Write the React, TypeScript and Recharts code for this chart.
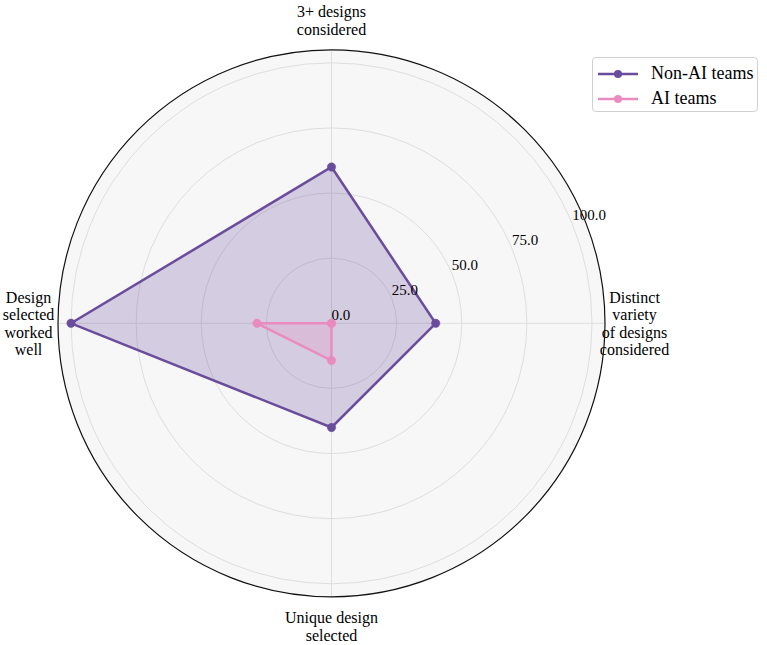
import React from "react";
import {
  RadarChart,
  Radar,
  PolarGrid,
  PolarAngleAxis,
  PolarRadiusAxis,
  Legend,
} from "recharts";

const categories = [
  "3+ designs\nconsidered",
  "Distinct\nvariety\nof designs\nconsidered",
  "Unique design\nselected",
  "Design\nselected\nworked\nwell",
];
const nonAiValues = [60, 40, 40, 100];
const aiValues = [0, 0, 14.3, 28.6];
const radiusTicks = [0, 25, 50, 75, 100];
const seriesNames = ["Non-AI teams", "AI teams"];
const seriesColors = ["#6a4c9c", "#e98bbf"];

const data = categories.map((c, i) => ({
  category: c,
  nonAi: nonAiValues[i],
  ai: aiValues[i],
}));

const W = 767;
const H = 645;
const CX = 331.5;
const CY = 323.3;
const OUTER = 273.5;
const RMAX = 105;
const LABEL_R = 303;
const FONT = "'Liberation Serif', 'Times New Roman', serif";
const TEXT = "#000000";

function AngleTick(props: any) {
  const { x, y, payload } = props;
  const dx = x - CX;
  const dy = y - CY;
  const d = Math.hypot(dx, dy) || 1;
  const lx = CX + (dx / d) * LABEL_R;
  const ly = CY + (dy / d) * LABEL_R;
  const lines = String(payload.value).split("\n");
  const step = 17.5;
  const start = ly - ((lines.length - 1) * step) / 2;
  return (
    <text textAnchor="middle" fontSize={16} fill={TEXT} fontFamily={FONT}>
      {lines.map((l, i) => (
        <tspan key={i} x={lx} y={start + i * step} dy="0.35em">
          {l}
        </tspan>
      ))}
    </text>
  );
}

function RadiusTick(props: any) {
  const { x, y, payload } = props;
  return (
    <text
      x={x}
      y={y - 9}
      dy="0.35em"
      textAnchor="start"
      fontSize={15}
      fill={TEXT}
      fontFamily={FONT}
    >
      {Number(payload.value).toFixed(1)}
    </text>
  );
}

function LegendContent() {
  return (
    <div
      style={{
        width: 166,
        height: 55,
        boxSizing: "border-box",
        border: "1px solid #d0d0d0",
        borderRadius: 4,
        background: "#ffffff",
        fontFamily: FONT,
        fontSize: 18,
        color: TEXT,
        paddingTop: 3,
      }}
    >
      {seriesNames.map((n, i) => (
        <div
          key={n}
          style={{ display: "flex", alignItems: "center", height: 25 }}
        >
          <svg width={52} height={12} style={{ marginLeft: 4 }}>
            <line
              x1={1}
              y1={6}
              x2={41}
              y2={6}
              stroke={seriesColors[i]}
              strokeWidth={2.5}
            />
            <circle cx={21} cy={6} r={4} fill={seriesColors[i]} />
          </svg>
          <span style={{ marginLeft: 2 }}>{n}</span>
        </div>
      ))}
    </div>
  );
}

export default function App() {
  return (
    <div
      style={{
        position: "absolute",
        left: 0,
        top: 0,
        width: W,
        height: H,
        background: "#ffffff",
      }}
    >
      <svg
        width={W}
        height={H}
        style={{ position: "absolute", left: 0, top: 0 }}
      >
        <circle cx={CX} cy={CY} r={OUTER} fill="#f7f7f7" stroke="none" />
      </svg>
      <div style={{ position: "absolute", left: 0, top: 0 }}>
        <RadarChart
          width={W}
          height={H}
          data={data}
          cx={CX}
          cy={CY}
          outerRadius={OUTER}
          startAngle={90}
          endAngle={-270}
          margin={{ top: 0, right: 0, bottom: 0, left: 0 }}
        >
          <PolarGrid gridType="circle" stroke="#dedede" strokeWidth={1} />
          <PolarAngleAxis
            dataKey="category"
            tick={<AngleTick />}
            tickLine={false}
            axisLine={false}
          />
          <PolarRadiusAxis
            angle={22.5}
            domain={[0, RMAX]}
            ticks={radiusTicks}
            tick={<RadiusTick />}
            axisLine={false}
            tickLine={false}
            type="number"
            allowDataOverflow
          />
          <Radar
            name={seriesNames[0]}
            dataKey="nonAi"
            stroke={seriesColors[0]}
            strokeWidth={2.5}
            fill={seriesColors[0]}
            fillOpacity={0.25}
            dot={{ r: 4.2, fill: seriesColors[0], fillOpacity: 1, stroke: seriesColors[0], strokeWidth: 0.5 }}
            isAnimationActive={false}
          />
          <Radar
            name={seriesNames[1]}
            dataKey="ai"
            stroke={seriesColors[1]}
            strokeWidth={2.5}
            fill={seriesColors[1]}
            fillOpacity={0.25}
            dot={{ r: 4.2, fill: seriesColors[1], fillOpacity: 1, stroke: seriesColors[1], strokeWidth: 0.5 }}
            isAnimationActive={false}
          />
          <Legend
            content={<LegendContent />}
            wrapperStyle={{ position: "absolute", left: 592, top: 57, width: 166 }}
          />
        </RadarChart>
      </div>
      <svg
        width={W}
        height={H}
        style={{ position: "absolute", left: 0, top: 0, pointerEvents: "none" }}
      >
        <circle cx={CX} cy={CY} r={OUTER} fill="none" stroke="#111" strokeWidth={1.2} />
      </svg>
    </div>
  );
}
